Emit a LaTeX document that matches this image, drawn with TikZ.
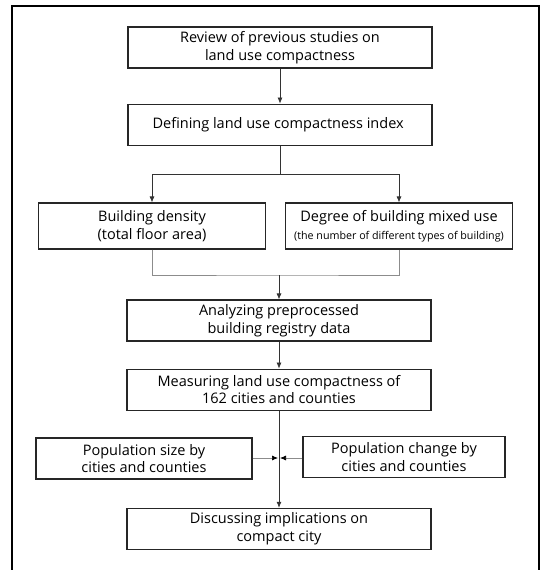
\documentclass[tikz,border=0pt]{standalone}
\usepackage{fontspec}
\setmainfont{Open Sans}
\usetikzlibrary{arrows.meta, positioning}

\begin{document}
\begin{tikzpicture}[
    x=1pt, y=1pt,
    main box/.style={
        rectangle,
        draw=black!85,
        line width=1.2pt,
        minimum width=304pt,
        minimum height=41pt,
        inner sep=2pt,
        align=center,
        font=\fontsize{14.5}{17.5}\selectfont
    },
    side box/.style={
        main box,
        minimum width=227pt,
        minimum height=46pt
    },
    arrow/.style={
        -{Latex[length=6pt, width=5pt]},
        line width=0.7pt,
        black!80
    },
    link/.style={
        line width=0.7pt,
        black!45
    },
    side arrow/.style={
        -{Latex[length=6pt, width=5pt, black]},
        line width=0.7pt,
        black!45
    }
]

\useasboundingbox (0,0) rectangle (541,-570);
\draw[line width=1.2pt] (12,-570) -- (12,-6) -- (539,-6) -- (539,-570);

\node[main box] (review) at (280,-47.5) {
    Review of previous studies on\\
    land use compactness
};

\node[main box, below=35pt of review] (define) {
    Defining land use compactness index
};

\node[side box] (density) at (152,-226) {
    Building density\\
    (total floor area)
};

\node[side box] (mixed) at (399,-226) {
    Degree of building mixed use\\
    {\fontsize{10.7}{12.5}\selectfont (the number of different types of building)}
};

\node[main box] (analyze) at (279,-320.5) {
    Analyzing preprocessed\\
    building registry data
};

\node[main box, below=27pt of analyze] (measure) {
    Measuring land use compactness of\\
    162 cities and counties
};

\node[main box, below=97pt of measure] (discuss) {
    Discussing implications on\\
    compact city
};

\node[main box, minimum width=216pt] (popsize) at (144,-458.5) {
    Population size by\\
    cities and counties
};

\node[main box, minimum width=202pt] (popchange) at (404,-457) {
    Population change by\\
    cities and counties
};

\coordinate (merge) at (279,-275);
\coordinate (meet) at (279,-458);

\draw[arrow] (review) -- (define);
\draw[arrow] (define.south) -- ++(0,-29) coordinate (split) -| (density.north);
\draw[arrow] (split) -| (mixed.north);
\draw[link] (density.south) |- (merge) -| (mixed.south);
\draw[arrow] (merge) -- (analyze);
\draw[arrow] (analyze) -- (measure);
\draw[arrow] (measure) -- (discuss);
\draw[side arrow] (popsize.east |- meet) -- ([xshift=-1pt]meet);
\draw[side arrow] (popchange.west |- meet) -- ([xshift=1pt]meet);

\end{tikzpicture}
\end{document}
